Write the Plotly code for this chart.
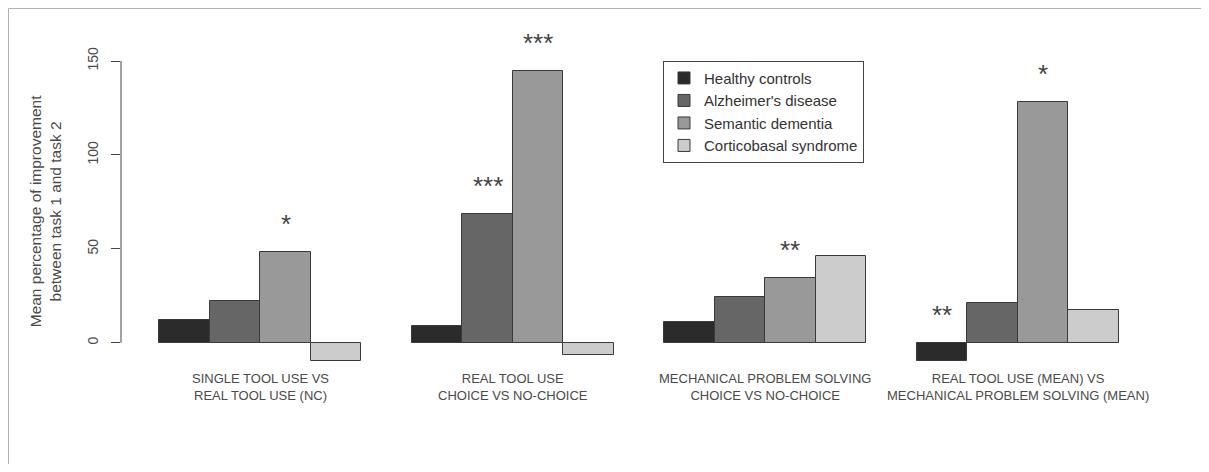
import plotly.graph_objects as go

# ---- data ----
groups = [
    "SINGLE TOOL USE VS<br>REAL TOOL USE (NC)",
    "REAL TOOL USE<br>CHOICE VS NO-CHOICE",
    "MECHANICAL PROBLEM SOLVING<br>CHOICE VS NO-CHOICE",
    "REAL TOOL USE (MEAN) VS<br>MECHANICAL PROBLEM SOLVING (MEAN)",
]
series = ["Healthy controls", "Alzheimer's disease", "Semantic dementia", "Corticobasal syndrome"]
healthy = [12, 8.7, 10.9, -9.7]
alzheimer = [22, 68.4, 24.3, 21.1]
semantic = [48.5, 144.7, 34.4, 128.2]
corticobasal = [-9.7, -6.7, 46.2, 17.2]
values = [healthy, alzheimer, semantic, corticobasal]
stars = [
    ["", "", "*", ""],
    ["", "***", "***", ""],
    ["", "", "**", ""],
    ["**", "", "*", ""],
]
colors = ["#2b2b2b", "#666666", "#999999", "#cccccc"]
yticks = [0, 50, 100, 150]

# ---- layout constants (page has an 8px body margin) ----
W, H = 1193, 456
ML, MT = 113, 41
PW, PH = 1036, 324
MR, MB = W - ML - PW, H - MT - PH
GROUP_STEP = 5  # 4 bars + 1 gap (bar units)
TEXT = "#4a4a4a"
FONT = "Liberation Sans, Arial"

fig = go.Figure()
for s, name in enumerate(series):
    xs = [g * GROUP_STEP + 1 + s + 0.5 for g in range(len(groups))]
    fig.add_trace(go.Bar(
        x=xs, y=values[s], name=name, width=1,
        marker=dict(color=colors[s], line=dict(color="#3a3a3a", width=1)),
    ))

annotations = []
for g, lab in enumerate(groups):
    annotations.append(dict(
        x=g * GROUP_STEP + 3, y=0, xref="x", yref="paper", text=lab,
        showarrow=False, yanchor="top", yshift=4,
        font=dict(family=FONT, size=13, color=TEXT),
    ))
for g in range(len(groups)):
    for s in range(len(series)):
        if stars[g][s]:
            annotations.append(dict(
                x=g * GROUP_STEP + 1 + s + 0.5, y=max(values[s][g], 0),
                xref="x", yref="y", text=stars[g][s], showarrow=False,
                yanchor="middle", yshift=28,
                font=dict(family=FONT, size=26, color="#444444"),
            ))
annotations.append(dict(
    x=0, y=70, xref="paper", yref="y", xshift=-76, xanchor="center", yanchor="middle",
    text="Mean percentage of improvement<br>between task 1 and task 2",
    textangle=-90, showarrow=False,
    font=dict(family=FONT, size=15.5, color=TEXT),
))

shapes = [
    dict(type="line", xref="paper", yref="y", x0=0, x1=0, y0=yticks[0], y1=yticks[-1],
         line=dict(color="#444444", width=1)),
    dict(type="line", xref="paper", yref="paper",
         x0=(0.5 - ML) / PW, x1=(W - ML) / PW,
         y0=(PH + MT - 0.5) / PH, y1=(PH + MT - 0.5) / PH,
         line=dict(color="#b0b0b0", width=1)),
    dict(type="line", xref="paper", yref="paper",
         x0=(0.5 - ML) / PW, x1=(0.5 - ML) / PW,
         y0=-MB / PH, y1=(PH + MT - 0.5) / PH,
         line=dict(color="#b0b0b0", width=1)),
]

fig.update_layout(
    width=W, height=H,
    margin=dict(l=ML, r=MR, t=MT, b=MB, pad=0),
    paper_bgcolor="white", plot_bgcolor="white",
    barmode="overlay", bargap=0,
    showlegend=True,
    legend=dict(
        x=(655 - ML) / PW, y=(PH + MT - 52.7) / PH, xanchor="left", yanchor="top",
        bordercolor="#444444", borderwidth=1, bgcolor="white",
        font=dict(family=FONT, size=15, color="#333333"),
        tracegroupgap=0,
    ),
    xaxis=dict(range=[0.24, 20.76], showgrid=False, zeroline=False, showline=False,
               showticklabels=False, ticks=""),
    yaxis=dict(range=[-16.1, 156.4], showgrid=False, zeroline=False, showline=False,
               tickvals=yticks, ticktext=[str(v) for v in yticks], ticks="outside",
               ticklen=9, tickcolor="#444444", tickangle=-90, ticklabelstandoff=7,
               tickfont=dict(family=FONT, size=14, color=TEXT)),
    annotations=annotations,
    shapes=shapes,
)

fig.write_html("out.html")
